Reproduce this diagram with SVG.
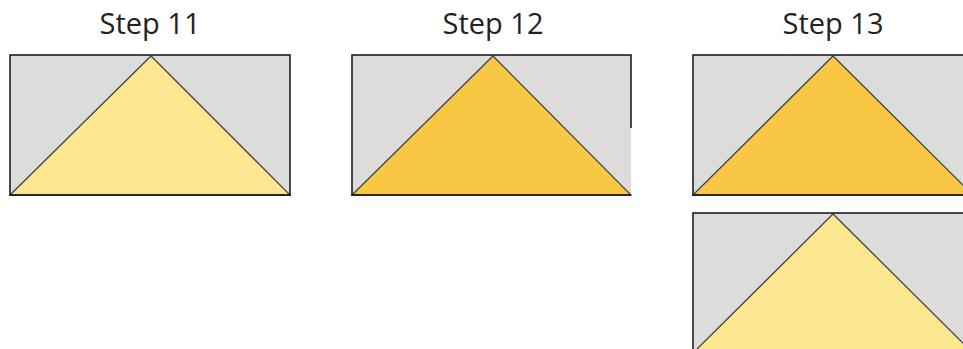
<svg xmlns="http://www.w3.org/2000/svg" width="963" height="349" viewBox="0 0 963 349">
  <style>
    .title { font-family: "Open Sans", "Noto Sans", "DejaVu Sans", sans-serif; font-size: 29px; fill: #222; text-anchor: middle; }
    .bg { fill: #dcdcdb; }
    .frame { fill: none; stroke: #111; stroke-width: 1.5; }
    .light { fill: #fce790; stroke: #444; stroke-width: 1.3; stroke-linejoin: miter; }
    .gold { fill: #f8c845; stroke: #444; stroke-width: 1.3; stroke-linejoin: miter; }
  </style>
  <rect width="963" height="349" fill="#ffffff"/>

  <g id="step11">
    <text class="title" x="150" y="34">Step 11</text>
    <rect class="bg" x="10" y="55" width="280" height="140"/>
    <polygon class="light" points="10,195 151,56 290,195"/>
    <rect class="frame" x="10" y="55" width="280" height="140"/>
  </g>

  <g id="step12">
    <text class="title" x="493" y="34">Step 12</text>
    <rect class="bg" x="352" y="55" width="279" height="140"/>
    <polygon class="gold" points="352,195 493,56 631,195"/>
    <path class="frame" d="M631,128 V55 H352 V195 H631"/>
  </g>

  <g id="step13">
    <text class="title" x="833" y="34">Step 13</text>
    <rect class="bg" x="693" y="55" width="280" height="140"/>
    <polygon class="gold" points="693,195 833,56 973,195"/>
    <rect class="frame" x="693" y="55" width="280" height="140"/>
  </g>

  <g id="step13b">
    <rect class="bg" x="693" y="213" width="280" height="140"/>
    <polygon class="light" points="693,353 833,214 973,353"/>
    <rect class="frame" x="693" y="213" width="280" height="140"/>
  </g>
</svg>
